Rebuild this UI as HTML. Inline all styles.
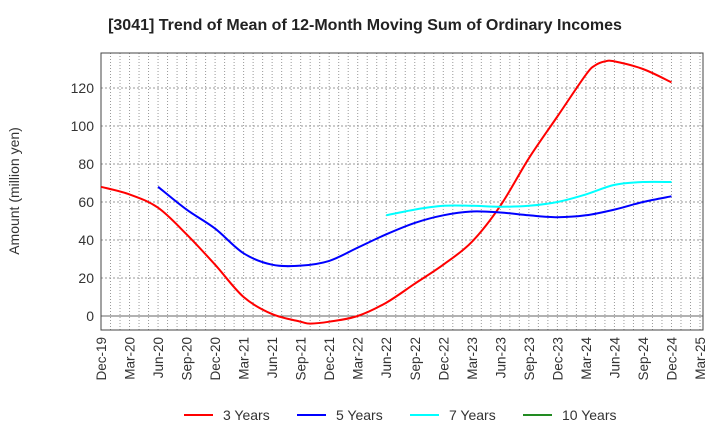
<!DOCTYPE html>
<html><head><meta charset="utf-8"><style>
body{margin:0;background:#fff;font-family:"Liberation Sans",Arial,sans-serif}
</style></head><body>
<svg id="c" width="720" height="440" xmlns="http://www.w3.org/2000/svg" font-family="Liberation Sans, Arial, sans-serif">
<text x="365" y="30" text-anchor="middle" font-size="16" font-weight="bold" fill="#222">[3041]  Trend of Mean of 12-Month Moving Sum of Ordinary Incomes</text>
<text transform="translate(19,191) rotate(-90)" text-anchor="middle" font-size="14" fill="#333">Amount (million yen)</text>
<g id="grid"></g><g id="axes"></g><g id="series"></g><g id="legend"></g>
</svg>
<script>
const xLabels=["Dec-19","Mar-20","Jun-20","Sep-20","Dec-20","Mar-21","Jun-21","Sep-21","Dec-21","Mar-22","Jun-22","Sep-22","Dec-22","Mar-23","Jun-23","Sep-23","Dec-23","Mar-24","Jun-24","Sep-24","Dec-24","Mar-25"];
const yTicks=[0,20,40,60,80,100,120];
const m3=[0,3,6,9,12,15,18,21,22,24,27,30,33,36,39,42,45,48,51,52,53,54,57,60];
const v3=[68,64,57,43,27,10,1,-3,-4,-3,0,7,17,27,39,58,83,105,127,132,134,134,130,123];
const m5=[6,9,12,15,18,21,24,27,30,33,36,39,42,45,48,51,54,57,60];
const v5=[68,56,46,33,27,26.5,29,36,43,49,53,55,54.5,53,52,53,56,60,63];
const m7=[30,33,36,39,42,45,48,51,54,57,60];
const v7=[53,56,58,58,57.5,58,60,64,69,70.5,70.5];
const m10=[];const v10=[];
const L=101,R=703,T=53,B=330;
const X=m=>101+m*(599/63);
const Y=v=>316-v*1.9;
const NS="http://www.w3.org/2000/svg";
function el(t,a,p){const e=document.createElementNS(NS,t);for(const k in a)e.setAttribute(k,a[k]);p.appendChild(e);return e;}
const g=document.getElementById('grid'),ax=document.getElementById('axes'),s=document.getElementById('series'),lg=document.getElementById('legend');
for(let m=0;m<=63;m++){const x=X(m);const l=el('line',{x1:x,x2:x,y1:T,y2:B,stroke:'#999','stroke-width':1,'stroke-dasharray':'1,2'},g);

}
yTicks.forEach(v=>{const y=Y(v);const l=el('line',{x1:L,x2:R,y1:y,y2:y,stroke:v===0?'#666':'#999','stroke-width':1,'stroke-dasharray':v===0?'':'2,2'},g);


const t=el('text',{x:L-7,y:y+5,'text-anchor':'end','font-size':14,fill:'#333'},ax);t.textContent=v;

});
const fr=el('rect',{x:L,y:T,width:R-L,height:B-T,fill:'none',stroke:'#444','stroke-width':1},ax);


xLabels.forEach((lab,i)=>{const x=X(i*3);const t=el('text',{transform:`translate(${x+5},337) rotate(-90)`,'text-anchor':'end','font-size':13.5,fill:'#333'},ax);t.textContent=lab;

});
function path(ms,vs){const p=ms.map((m,i)=>[X(m),Y(vs[i])]);if(p.length<2)return '';let d=`M${p[0][0]},${p[0][1]}`;
for(let i=0;i<p.length-1;i++){const p0=p[i-1]||p[i],p1=p[i],p2=p[i+1],p3=p[i+2]||p2;
d+=` C${p1[0]+(p2[0]-p0[0])/6},${p1[1]+(p2[1]-p0[1])/6} ${p2[0]-(p3[0]-p1[0])/6},${p2[1]-(p3[1]-p1[1])/6} ${p2[0]},${p2[1]}`;}return d;}
[[m3,v3,'#f00','line-3-years'],[m5,v5,'#00f','line-5-years'],[m7,v7,'#0ff','line-7-years'],[m10,v10,'#228b22','line-10-years']].forEach(([m,v,c,n])=>{
if(!m.length)return;const e=el('path',{d:path(m,v),fill:'none',stroke:c,'stroke-width':2},s);

});
[['3 Years','#f00',184],['5 Years','#00f',297],['7 Years','#0ff',410],['10 Years','#228b22',523]].forEach(([t,c,x])=>{
const gg=el('g',{},lg);


el('line',{x1:x,x2:x+29,y1:415,y2:415,stroke:c,'stroke-width':2},gg);
const tx=el('text',{x:x+39,y:420,'font-size':14,fill:'#333'},gg);tx.textContent=t;});
</script>
</body></html>
